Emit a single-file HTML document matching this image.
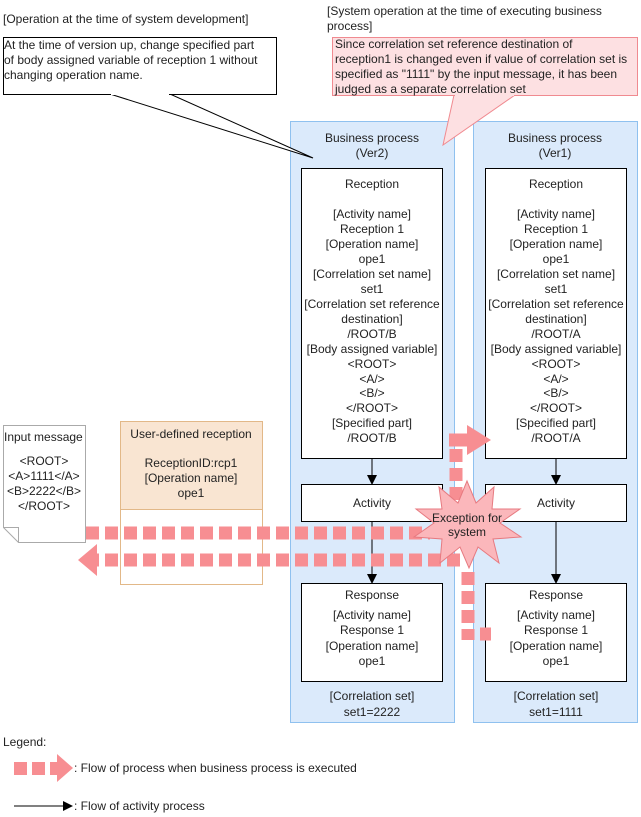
<!DOCTYPE html>
<html><head><meta charset="utf-8"><style>
html,body{margin:0;padding:0;background:#fff;}
svg{display:block;font-family:"Liberation Sans",Arial,sans-serif;font-size:12px;fill:#222;}
</style></head><body>
<svg width="641" height="817" viewBox="0 0 641 817" xmlns="http://www.w3.org/2000/svg">
<defs>
<marker id="ah" markerWidth="10" markerHeight="10" refX="9" refY="5" orient="auto" markerUnits="userSpaceOnUse">
<path d="M0,0 L10,5 L0,10 Z" fill="#000"/></marker>
</defs>
<text x="3" y="23">[Operation at the time of system development]</text>
<text x="327" y="15">[System operation at the time of executing business</text>
<text x="327" y="30">process]</text>
<!-- panels -->
<rect x="290.5" y="121.5" width="164" height="601" fill="#dbeafb" stroke="#8fc1ef"/>
<rect x="473.5" y="121.5" width="164" height="601" fill="#dbeafb" stroke="#8fc1ef"/>
<!-- left callout -->
<polygon points="110,94 313,158 170,94" fill="#fff" stroke="#000" stroke-width="1"/>
<rect x="3.5" y="37.5" width="273" height="57" fill="#fff" stroke="#000"/>
<rect x="111" y="93" width="58" height="2" fill="#fff"/>
<text x="4" y="49">At the time of version up, change specified part</text>
<text x="4" y="64">of body assigned variable of reception 1 without</text>
<text x="4" y="79">changing operation name.</text>
<!-- pink callout -->
<polygon points="454,95 443,145 515,95" fill="#fde0e2" stroke="#f08a90"/>
<rect x="332.5" y="37.5" width="305" height="58" fill="#fde0e2" stroke="#f08a90"/>
<rect x="455" y="94" width="59" height="2" fill="#fde0e2"/>
<text x="335" y="48">Since correlation set reference destination of</text>
<text x="335" y="63">reception1 is changed even if value of correlation set is</text>
<text x="335" y="78">specified as "1111"  by the input message, it has been</text>
<text x="335" y="93">judged as a separate correlation set</text>
<g text-anchor="middle">
<text x="372" y="142">Business process</text><text x="372" y="157">(Ver2)</text>
<text x="555" y="142">Business process</text><text x="555" y="157">(Ver1)</text>
</g>
<g fill="#fff" stroke="#000">
<rect x="301.5" y="168.5" width="141" height="290"/>
<rect x="485.5" y="168.5" width="141" height="290"/>
<rect x="301.5" y="484.5" width="141" height="37"/>
<rect x="485.5" y="484.5" width="141" height="37"/>
<rect x="301.5" y="583.5" width="141" height="98"/>
<rect x="485.5" y="583.5" width="141" height="98"/>
</g>
<g stroke="#000" stroke-width="1">
<line x1="372" y1="459" x2="372" y2="484" marker-end="url(#ah)"/>
<line x1="372" y1="522" x2="372" y2="583" marker-end="url(#ah)"/>
<line x1="556" y1="459" x2="556" y2="484" marker-end="url(#ah)"/>
<line x1="556" y1="522" x2="556" y2="583" marker-end="url(#ah)"/>
</g>
<g text-anchor="middle">
<text x="372" y="188">Reception</text>
<text x="372" y="218">[Activity name]</text>
<text x="372" y="233">Reception 1</text>
<text x="372" y="248">[Operation name]</text>
<text x="372" y="263">ope1</text>
<text x="372" y="278">[Correlation set name]</text>
<text x="372" y="293">set1</text>
<text x="372" y="308">[Correlation set reference</text>
<text x="372" y="323">destination]</text>
<text x="372" y="338">/ROOT/B</text>
<text x="372" y="353">[Body assigned variable]</text>
<text x="372" y="368">&lt;ROOT&gt;</text>
<text x="372" y="383">&lt;A/&gt;</text>
<text x="372" y="397">&lt;B/&gt;</text>
<text x="372" y="412">&lt;/ROOT&gt;</text>
<text x="372" y="427">[Specified part]</text>
<text x="372" y="442">/ROOT/B</text>
<text x="556" y="188">Reception</text>
<text x="556" y="218">[Activity name]</text>
<text x="556" y="233">Reception 1</text>
<text x="556" y="248">[Operation name]</text>
<text x="556" y="263">ope1</text>
<text x="556" y="278">[Correlation set name]</text>
<text x="556" y="293">set1</text>
<text x="556" y="308">[Correlation set reference</text>
<text x="556" y="323">destination]</text>
<text x="556" y="338">/ROOT/A</text>
<text x="556" y="353">[Body assigned variable]</text>
<text x="556" y="368">&lt;ROOT&gt;</text>
<text x="556" y="383">&lt;A/&gt;</text>
<text x="556" y="397">&lt;B/&gt;</text>
<text x="556" y="412">&lt;/ROOT&gt;</text>
<text x="556" y="427">[Specified part]</text>
<text x="556" y="442">/ROOT/A</text>
<text x="372" y="507">Activity</text>
<text x="556" y="507">Activity</text>
<text x="372" y="599">Response</text>
<text x="372" y="619">[Activity name]</text>
<text x="372" y="634">Response 1</text>
<text x="372" y="650">[Operation name]</text>
<text x="372" y="665">ope1</text>
<text x="556" y="599">Response</text>
<text x="556" y="619">[Activity name]</text>
<text x="556" y="634">Response 1</text>
<text x="556" y="650">[Operation name]</text>
<text x="556" y="665">ope1</text>
<text x="372" y="700">[Correlation set]</text>
<text x="372" y="716">set1=2222</text>
<text x="556" y="700">[Correlation set]</text>
<text x="556" y="716">set1=1111</text>
</g>
<path d="M3.5,425.5 H85.5 V542.5 H18.5 L3.5,527.5 Z" fill="#fff" stroke="#aaa"/>
<path d="M3.5,527.5 L18.5,527.5 L18.5,542.5" fill="none" stroke="#aaa"/>
<text x="4" y="441">Input message</text>
<g text-anchor="middle">
<text x="44" y="465">&lt;ROOT&gt;</text>
<text x="44" y="480">&lt;A&gt;1111&lt;/A&gt;</text>
<text x="44" y="495">&lt;B&gt;2222&lt;/B&gt;</text>
<text x="44" y="510">&lt;/ROOT&gt;</text>
</g>
<rect x="120.5" y="421.5" width="142" height="163" fill="#fff" stroke="#e2b888"/>
<rect x="120.5" y="421.5" width="142" height="88" fill="#f9e5d2" stroke="#e2b888"/>
<g text-anchor="middle">
<text x="191" y="438">User-defined reception</text>
<text x="191" y="467">ReceptionID:rcp1</text>
<text x="191" y="482">[Operation name]</text>
<text x="191" y="497">ope1</text>
</g>
<g stroke="#f78e92" stroke-width="13" fill="none" stroke-dasharray="13 6">
<line x1="86" y1="533" x2="430" y2="533"/>
<line x1="460" y1="560" x2="97" y2="560"/>
<line x1="456" y1="500" x2="456" y2="434"/>
<line x1="449" y1="440" x2="468" y2="440" stroke-dasharray="none"/>
<line x1="468" y1="572" x2="468" y2="640"/>
<line x1="480" y1="634" x2="491" y2="634" stroke-dasharray="none"/>
</g>
<polygon points="467,425 491,440 467,455" fill="#f78e92"/>
<polygon points="97,544 78,560 97,576" fill="#f78e92"/>
<polygon fill="#fbb7bb" stroke="#e77a80" points="467,481 476,503 494,487 492,509 520,509 500,523 521,537 493,539 499,563 478,547 469,568 460,547 440,563 442,539 414,537 434,523 416,509 442,509 439,487 458,503"/>
<g text-anchor="middle"><text x="467" y="522">Exception for</text><text x="467" y="536">system</text></g>
<text x="3" y="746">Legend:</text>
<g fill="#f78e92"><rect x="14" y="762" width="13" height="13"/><rect x="32" y="762" width="13" height="13"/><rect x="50" y="762" width="8" height="13"/><polygon points="57,754 73,768 57,782"/></g>
<text x="74" y="772">: Flow of process when business process is executed</text>
<line x1="14" y1="806" x2="72" y2="806" stroke="#000" marker-end="url(#ah)"/>
<text x="74" y="810">: Flow of activity process</text>
</svg>
</body></html>
